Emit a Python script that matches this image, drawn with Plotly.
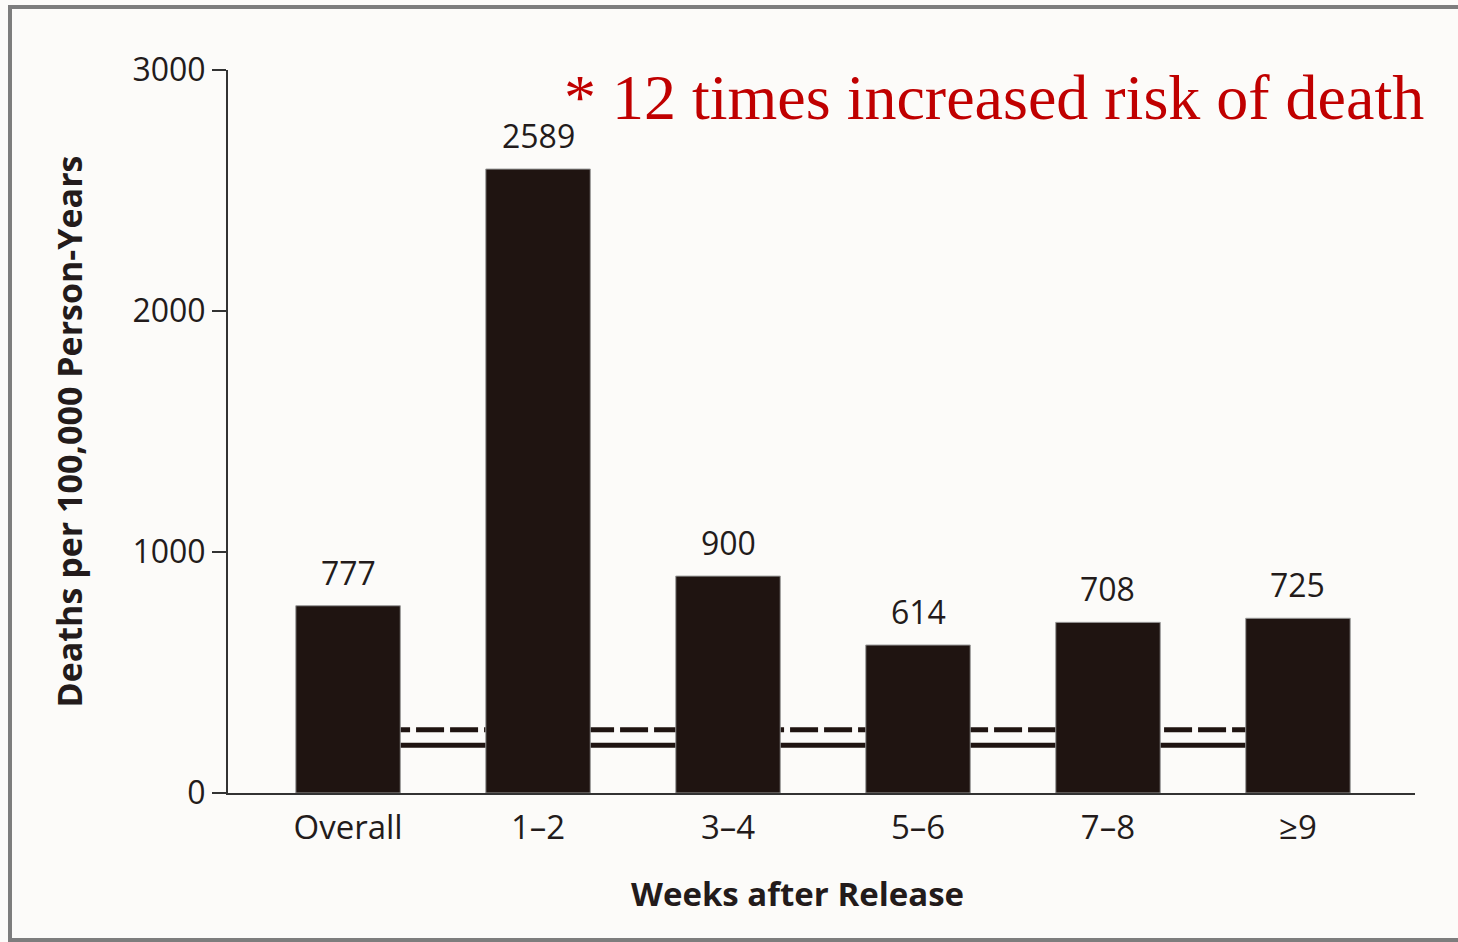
import plotly.graph_objects as go

categories = ["Overall", "1\u20132", "3\u20134", "5\u20136", "7\u20138", "\u22659"]
deaths = [777, 2589, 900, 614, 708, 725]
bar_labels = ["777", "2589", "900", "614", "708", "725"]
ref_dashed = [262]
ref_solid = [198]
y_ticks = [0, 1000, 2000, 3000]
y_tick_labels = ["0", "1000", "2000", "3000"]

W, H = 1458, 942
L, R, T, B = 228, 43, 70, 149
pw, ph = W - L - R, H - T - B

FONT = "Open Sans"
TXT = "#231b1b"
BAR = "#1f1411"

fig = go.Figure()
fig.add_trace(go.Bar(
    x=list(range(len(categories))), y=deaths, width=0.55,
    marker=dict(color=BAR, line=dict(color="#9a9a9a", width=1)),
    hoverinfo="skip", showlegend=False,
))

for i, (c, v, t) in enumerate(zip(categories, deaths, bar_labels)):
    fig.add_annotation(x=i, y=v, text=t, showarrow=False, yanchor="bottom",
                       yshift=10, font=dict(family=FONT, size=32, color=TXT))

# reference lines (behind bars)
fig.add_shape(type="line", xref="x", yref="y", x0=0, x1=len(categories) - 1,
              y0=ref_dashed[0], y1=ref_dashed[0], layer="below",
              line=dict(color=BAR, width=5, dash="28px,6px"))
fig.add_shape(type="line", xref="x", yref="y", x0=0, x1=len(categories) - 1,
              y0=ref_solid[0], y1=ref_solid[0], layer="below",
              line=dict(color=BAR, width=5))

# outer frame
fig.add_shape(type="rect", xref="paper", yref="paper",
              x0=(10 - L) / pw, x1=(W + 20 - L) / pw,
              y0=-(940 - (T + ph)) / ph, y1=(T + ph - 7) / ph,
              line=dict(color="#7d7d7d", width=4), fillcolor="rgba(0,0,0,0)",
              layer="below")

# red note
fig.add_annotation(xref="paper", yref="paper", x=(1426 - L) / pw, y=(T + ph - 98) / ph,
                   text="* 12 times increased risk of death", showarrow=False,
                   xanchor="right", yanchor="middle",
                   font=dict(family="Liberation Serif", size=64, color="#c00000"))

# x title
fig.add_annotation(xref="paper", yref="paper", x=(797 - L) / pw, y=-(893 - (T + ph)) / ph,
                   text="<b>Weeks after Release</b>", showarrow=False,
                   xanchor="center", yanchor="middle",
                   font=dict(family=FONT, size=33, color=TXT))

fig.update_layout(
    width=W, height=H,
    margin=dict(l=L, r=R, t=T, b=B, pad=0),
    paper_bgcolor="#fcfbf9", plot_bgcolor="#fcfbf9",
    bargap=0.45,
)
fig.update_xaxes(
    range=[-0.632, 5.616], tickmode="array",
    tickvals=list(range(len(categories))), ticktext=categories,
    showgrid=False, zeroline=False, showline=True, linecolor="#333333", linewidth=2,
    ticks="", ticklabelstandoff=4,
    tickfont=dict(family=FONT, size=33, color=TXT),
)
fig.update_yaxes(
    range=[0, 3000], tickmode="array", tickvals=y_ticks, ticktext=y_tick_labels,
    showgrid=False, zeroline=False, showline=True, linecolor="#333333", linewidth=2,
    ticks="outside", ticklen=14, tickwidth=2, tickcolor="#333333",
    tickfont=dict(family=FONT, size=32, color=TXT),
    title=dict(text="<b>Deaths per 100,000 Person-Years</b>", standoff=40,
               font=dict(family=FONT, size=34, color=TXT)),
)

fig.write_html("out.html", config={"displayModeBar": False},
               post_script="document.body.style.margin='0';document.body.style.overflow='hidden';")
